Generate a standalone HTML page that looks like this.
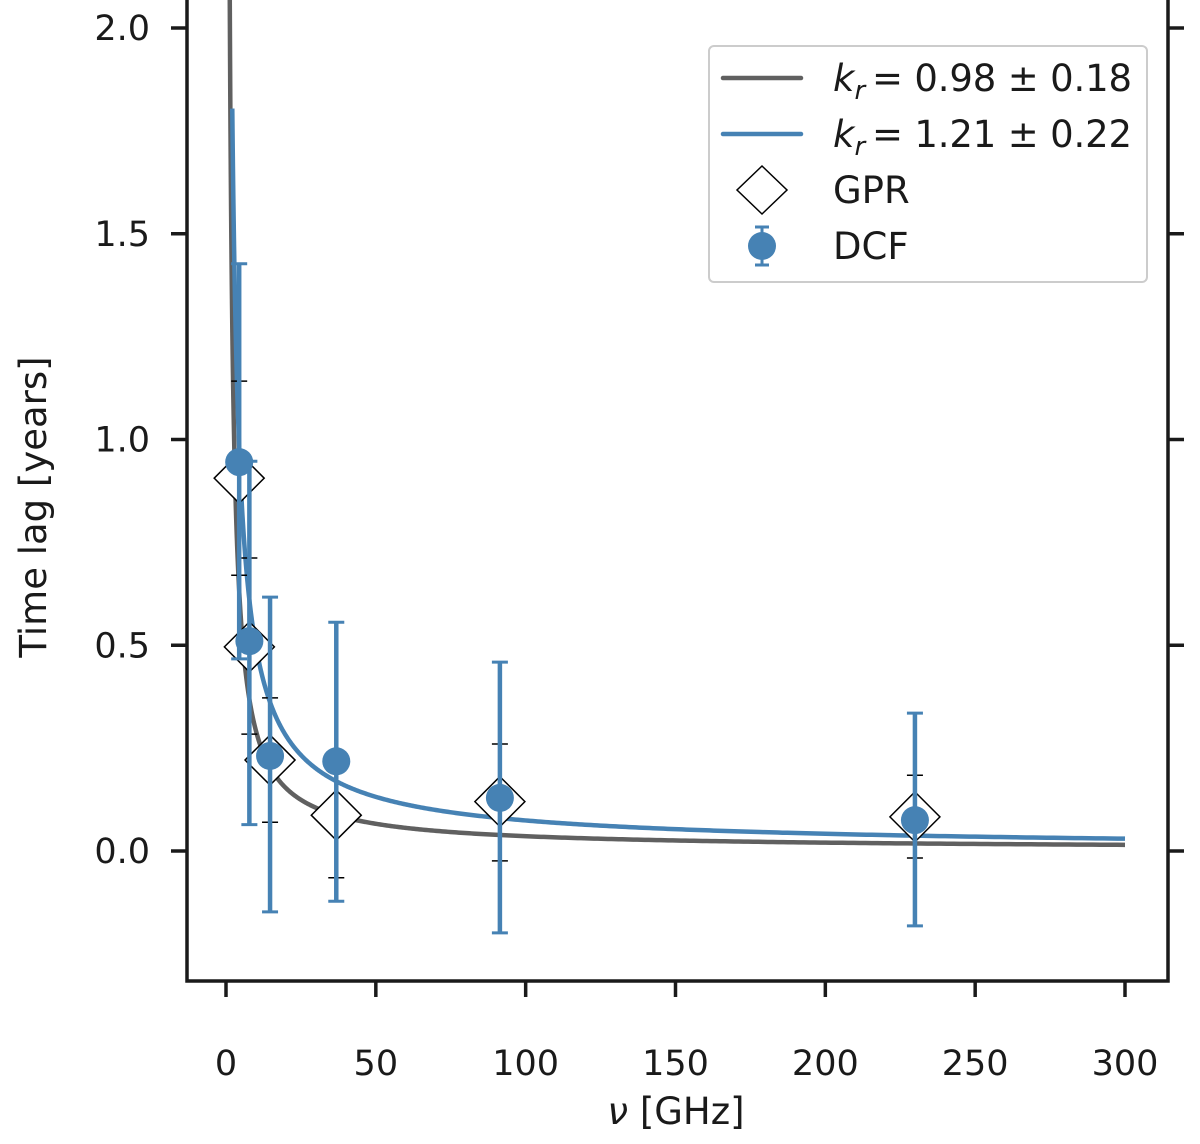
<!DOCTYPE html>
<html><head><meta charset="utf-8"><style>body{margin:0;background:#fff}svg{display:block}text{font-family:"DejaVu Sans","Liberation Sans",sans-serif;fill:#1a1a1a}</style></head>
<body>
<svg id="chart" width="1200" height="1144" viewBox="0 0 1200 1144">
<defs><clipPath id="clip"><rect x="187" y="0" width="981" height="981"/></clipPath></defs>
<g id="curves" clip-path="url(#clip)"></g>
<g id="marks" clip-path="url(#clip)"></g>
<g id="axes"></g>
<g>
<rect x="709" y="46" width="438" height="236" rx="5" fill="#fff" stroke="#ccc" stroke-width="2"/>
<line x1="723" y1="78" x2="801" y2="78" stroke="#606060" stroke-width="4.5" stroke-linecap="round"/>
<text x="833" y="91" font-size="37"><tspan font-style="italic">k</tspan><tspan font-style="italic" font-size="26" dy="8">r</tspan><tspan dy="-8" textLength="260" x="872">= 0.98 ± 0.18</tspan></text>
<line x1="723" y1="134" x2="801" y2="134" stroke="#4682b4" stroke-width="4.5" stroke-linecap="round"/>
<text x="833" y="147" font-size="37"><tspan font-style="italic">k</tspan><tspan font-style="italic" font-size="26" dy="8">r</tspan><tspan dy="-8" textLength="260" x="872">= 1.21 ± 0.22</tspan></text>
<polygon points="762,166 787,190 762,214 737,190" fill="#fff" stroke="#000" stroke-width="1.5"/>
<text x="833" y="203" font-size="37">GPR</text>
<line x1="762" y1="227" x2="762" y2="265" stroke="#4682b4" stroke-width="3"/>
<line x1="755" y1="227" x2="769" y2="227" stroke="#4682b4" stroke-width="3"/>
<line x1="755" y1="265" x2="769" y2="265" stroke="#4682b4" stroke-width="3"/>
<ellipse cx="762" cy="246" rx="14" ry="14" fill="#4682b4"/>
<text x="833" y="259" font-size="37">DCF</text>
</g>
</svg>
<script>
const freqs=[4.4,7.8,14.7,36.8,91.4,229.9];
const dcfVals=[0.945,0.51,0.231,0.218,0.129,0.075];
const dcfHi=[1.427,0.947,0.617,0.556,0.459,0.335];
const dcfLo=[0.467,0.064,-0.148,-0.122,-0.199,-0.182];
const gprVals=[0.906,0.496,0.221,0.087,0.12,0.083];
const gprHi=[1.142,0.712,0.372,0.24,0.26,0.184];
const gprLo=[0.67,0.284,0.07,-0.065,-0.024,-0.017];
const xTicks=[0,50,100,150,200,250,300];
const yTicks=[0.0,0.5,1.0,1.5,2.0];
const grayFit=[2.57,0.95,-0.0036,1.2];
const blueFit=[3.33,0.826,0,2.1];
const NS='http://www.w3.org/2000/svg';
function X(v){return 226+v*(1125-226)/300;}
function Y(v){return 851-v*411.5;}
function mk(tag,attrs,parent){const e=document.createElementNS(NS,tag);for(const k in attrs)e.setAttribute(k,attrs[k]);parent.appendChild(e);return e;}
const curves=document.getElementById('curves'),marks=document.getElementById('marks'),axes=document.getElementById('axes');
function curve(p,color,name){let d='';for(let i=0;i<=600;i++){const nu=p[3]*Math.pow(300/p[3],i/600);const y=p[0]*Math.pow(nu,-p[1])-p[2];d+=(i?'L':'M')+X(nu).toFixed(2)+','+Y(y).toFixed(2);}
const e=mk('path',{d:d,fill:'none',stroke:color,'stroke-width':4.5},curves);

}
curve(grayFit,'#606060','fit-curve-gray');
curve(blueFit,'#4682b4','fit-curve-blue');
freqs.forEach((f,i)=>{const x=X(f);
mk('line',{x1:x,y1:Y(gprHi[i]),x2:x,y2:Y(gprLo[i]),stroke:'#000','stroke-width':1.5},marks);
[gprHi[i],gprLo[i]].forEach(v=>mk('line',{x1:x-8,y1:Y(v),x2:x+8,y2:Y(v),stroke:'#000','stroke-width':1.5},marks));
const y=Y(gprVals[i]);
const dm=mk('polygon',{points:`${x},${y-25} ${x+25},${y} ${x},${y+25} ${x-25},${y}`,fill:'#fff',stroke:'#000','stroke-width':1.5},marks);

});
freqs.forEach((f,i)=>{const x=X(f);
mk('line',{x1:x,y1:Y(dcfHi[i]),x2:x,y2:Y(dcfLo[i]),stroke:'#4682b4','stroke-width':4.5},marks);
[dcfHi[i],dcfLo[i]].forEach(v=>mk('line',{x1:x-8,y1:Y(v),x2:x+8,y2:Y(v),stroke:'#4682b4','stroke-width':3},marks));
const c=mk('circle',{cx:x,cy:Y(dcfVals[i]),r:14,fill:'#4682b4'},marks);

});
mk('path',{d:'M187,0V981H1168V0',fill:'none',stroke:'#1a1a1a','stroke-width':3.5},axes);
xTicks.forEach(t=>{const x=X(t);mk('line',{x1:x,y1:981,x2:x,y2:997,stroke:'#1a1a1a','stroke-width':3.5},axes);
const tx=mk('text',{x:x,y:1075,'font-size':35,'text-anchor':'middle'},axes);tx.textContent=t;

});
yTicks.forEach(t=>{const y=Y(t);mk('line',{x1:171,y1:y,x2:187,y2:y,stroke:'#1a1a1a','stroke-width':3.5},axes);
mk('line',{x1:1168,y1:y,x2:1184,y2:y,stroke:'#1a1a1a','stroke-width':3.5},axes);
const tx=mk('text',{x:150,y:y+12,'font-size':35,'text-anchor':'end'},axes);tx.textContent=t.toFixed(1);

});
const xl=mk('text',{x:676,y:1124,'font-size':37,'text-anchor':'middle'},axes);xl.innerHTML='<tspan font-style="italic">ν</tspan> [GHz]';


const yl=mk('text',{x:0,y:0,'font-size':37,'text-anchor':'middle',transform:'translate(46,507) rotate(-90)'},axes);yl.textContent='Time lag [years]';


</script>
</body></html>
